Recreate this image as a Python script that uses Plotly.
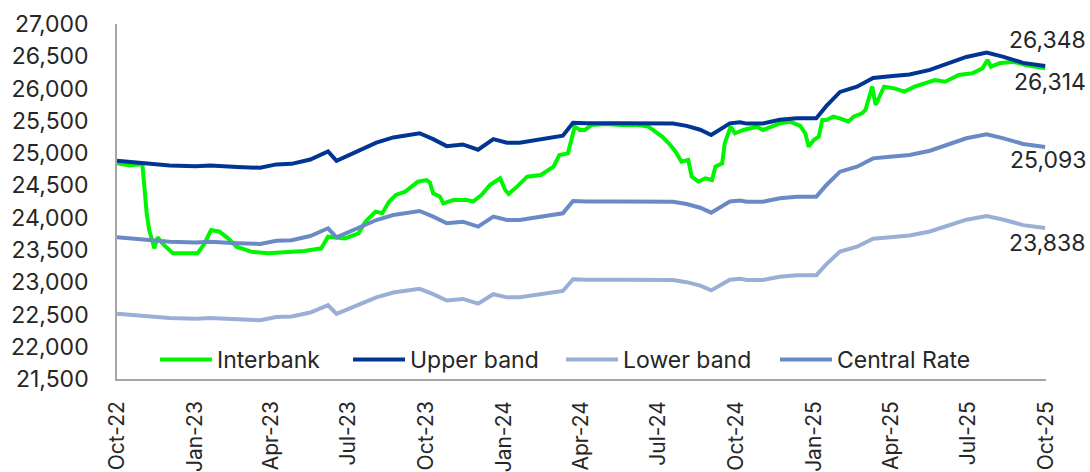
import plotly.graph_objects as go

# Central rate and the +/-5% trading band (VND per USD)
band_dates = [
    "2022-10-01", "2022-11-01", "2022-12-02", "2023-01-02", "2023-01-19", "2023-02-20",
    "2023-03-19", "2023-04-07", "2023-04-25", "2023-05-17", "2023-06-07", "2023-06-17",
    "2023-07-15", "2023-08-03", "2023-08-23", "2023-09-12", "2023-09-23", "2023-10-09",
    "2023-10-25", "2023-11-13", "2023-12-01", "2023-12-19", "2024-01-04", "2024-01-19",
    "2024-02-08", "2024-02-28", "2024-03-10", "2024-03-22", "2024-04-07", "2024-05-16",
    "2024-06-25", "2024-07-18", "2024-08-03", "2024-08-19", "2024-09-01", "2024-09-11",
    "2024-09-23", "2024-10-05", "2024-10-13", "2024-11-01", "2024-11-21", "2024-12-11",
    "2025-01-03", "2025-01-15", "2025-01-31", "2025-02-20", "2025-03-11", "2025-03-31",
    "2025-04-23", "2025-05-17", "2025-06-06", "2025-06-29", "2025-07-23", "2025-08-12",
    "2025-09-04", "2025-09-30",
]
central_rate = [
    23695, 23660, 23627, 23615, 23627, 23605, 23592, 23643, 23650, 23715, 23835, 23695,
    23850, 23963, 24041, 24077, 24103, 24015, 23912, 23937, 23860, 24015, 23963, 23963,
    23999, 24041, 24067, 24258, 24249, 24249, 24249, 24245, 24211, 24154, 24077, 24154,
    24249, 24265, 24245, 24247, 24300, 24325, 24325, 24506, 24712, 24789, 24918, 24944,
    24970, 25037, 25125, 25229, 25291, 25229, 25141, 25093,
]
upper_band = [
    24880, 24843, 24808, 24796, 24808, 24785, 24772, 24825, 24833, 24901, 25027, 24880,
    25043, 25161, 25243, 25281, 25308, 25216, 25108, 25134, 25053, 25216, 25161, 25161,
    25199, 25243, 25270, 25471, 25461, 25461, 25461, 25457, 25422, 25362, 25281, 25362,
    25461, 25478, 25457, 25459, 25515, 25541, 25541, 25731, 25948, 26028, 26164, 26191,
    26219, 26289, 26381, 26490, 26556, 26490, 26398, 26348,
]
lower_band = [
    22510, 22477, 22446, 22434, 22446, 22425, 22412, 22461, 22468, 22529, 22643, 22510,
    22658, 22765, 22839, 22873, 22898, 22814, 22716, 22740, 22667, 22814, 22765, 22765,
    22799, 22839, 22864, 23045, 23037, 23037, 23037, 23033, 23000, 22946, 22873, 22946,
    23037, 23052, 23033, 23035, 23085, 23109, 23109, 23281, 23476, 23550, 23672, 23697,
    23722, 23785, 23869, 23968, 24026, 23968, 23884, 23838,
]

# Interbank USD/VND rate
interbank_dates = [
    "2022-10-01", "2022-10-15", "2022-10-31", "2022-11-05", "2022-11-08", "2022-11-14",
    "2022-11-18", "2022-11-24", "2022-12-06", "2022-12-20", "2023-01-04", "2023-01-12",
    "2023-01-20", "2023-01-30", "2023-02-09", "2023-02-19", "2023-03-08", "2023-03-28",
    "2023-04-17", "2023-05-10", "2023-05-30", "2023-06-07", "2023-06-27", "2023-07-13",
    "2023-07-21", "2023-08-02", "2023-08-10", "2023-08-18", "2023-08-26", "2023-09-06",
    "2023-09-21", "2023-10-01", "2023-10-05", "2023-10-09", "2023-10-17", "2023-10-21",
    "2023-11-02", "2023-11-18", "2023-11-25", "2023-12-05", "2023-12-15", "2023-12-27",
    "2024-01-02", "2024-01-06", "2024-01-16", "2024-01-28", "2024-02-13", "2024-02-28",
    "2024-03-06", "2024-03-16", "2024-03-24", "2024-03-30", "2024-04-05", "2024-04-13",
    "2024-04-29", "2024-05-18", "2024-06-07", "2024-06-19", "2024-06-27", "2024-07-05",
    "2024-07-13", "2024-07-21", "2024-07-28", "2024-08-05", "2024-08-09", "2024-08-17",
    "2024-08-25", "2024-09-02", "2024-09-06", "2024-09-14", "2024-09-17", "2024-09-24",
    "2024-09-29", "2024-10-09", "2024-10-25", "2024-11-01", "2024-11-21", "2024-12-03",
    "2024-12-15", "2024-12-21", "2024-12-25", "2024-12-31", "2025-01-06", "2025-01-10",
    "2025-01-15", "2025-01-23", "2025-01-31", "2025-02-10", "2025-02-16", "2025-02-26",
    "2025-03-02", "2025-03-10", "2025-03-14", "2025-03-24", "2025-04-05", "2025-04-17",
    "2025-04-29", "2025-05-11", "2025-05-23", "2025-06-04", "2025-06-20", "2025-07-06",
    "2025-07-18", "2025-07-24", "2025-07-28", "2025-08-07", "2025-08-23", "2025-09-07",
    "2025-09-30",
]
interbank = [
    24842, 24810, 24826, 24067, 23808, 23525,
    23695, 23592, 23447, 23440, 23447, 23592,
    23808, 23782, 23679, 23550, 23473, 23447,
    23460, 23483, 23525, 23705, 23679, 23757,
    23937, 24093, 24067, 24247, 24351, 24403,
    24557, 24583, 24548, 24377, 24325, 24222,
    24273, 24273, 24250, 24351, 24506, 24609,
    24428, 24367, 24480, 24635, 24660, 24789,
    24970, 24996, 25409, 25358, 25358, 25435,
    25450, 25435, 25435, 25410, 25332, 25255,
    25151, 25022, 24867, 24893, 24635, 24557,
    24609, 24583, 24789, 24841, 25151, 25409,
    25306, 25358, 25409, 25358, 25461, 25487,
    25420, 25306, 25100, 25203, 25255, 25513,
    25513, 25564, 25538, 25487, 25564, 25616,
    25667, 26029, 25745, 26029, 26003, 25952,
    26029, 26081, 26132, 26106, 26210, 26236,
    26313, 26442, 26339, 26391, 26416, 26365,
    26314,
]

tick_dates = [
    "2022-10-01", "2023-01-01", "2023-04-01", "2023-07-01", "2023-10-01", "2024-01-01",
    "2024-04-01", "2024-07-01", "2024-10-01", "2025-01-01", "2025-04-01", "2025-07-01",
    "2025-10-01",
]
tick_labels = [
    "Oct-22", "Jan-23", "Apr-23", "Jul-23", "Oct-23", "Jan-24",
    "Apr-24", "Jul-24", "Oct-24", "Jan-25", "Apr-25", "Jul-25", "Oct-25",
]

FONT = "Inter, 'Open Sans', sans-serif"
TXT = "#262626"
GREEN = "#00F500"
NAVY = "#003594"
LIGHT = "#9AAED6"
MID = "#6A8AC6"

fig = go.Figure()
series = [
    ("Interbank", interbank_dates, interbank, GREEN, "legend"),
    ("Upper band", band_dates, upper_band, NAVY, "legend2"),
    ("Lower band", band_dates, lower_band, LIGHT, "legend3"),
    ("Central Rate", band_dates, central_rate, MID, "legend4"),
]
for name, xs, ys, color, lg in series:
    fig.add_trace(go.Scatter(
        x=xs, y=ys, name=name, mode="lines",
        line=dict(color=color, width=4),
        legend=lg, hoverinfo="skip",
    ))

# End-of-period value labels
end_labels = [
    (band_dates[-1], upper_band[-1], 26),
    (interbank_dates[-1], interbank[-1], -14),
    (band_dates[-1], central_rate[-1], -13),
    (band_dates[-1], lower_band[-1], -15),
]
for xd, val, dy in end_labels:
    fig.add_annotation(
        x=xd, y=val, xref="x", yref="y", text=f"{val:,}",
        showarrow=False, xanchor="right", yanchor="middle",
        xshift=43, yshift=dy, font=dict(family=FONT, size=23, color=TXT),
    )

PW = 929.0
legend_common = dict(
    orientation="h", yanchor="middle", y=0.055, xanchor="left",
    bgcolor="rgba(0,0,0,0)", font=dict(family=FONT, size=23, color=TXT),
    itemwidth=52, borderwidth=0, tracegroupgap=0,
)
fig.update_layout(
    width=1090, height=472,
    margin=dict(l=117, r=44, t=24, b=93),
    paper_bgcolor="white", plot_bgcolor="white",
    font=dict(family=FONT, size=23, color=TXT),
    showlegend=True,
    legend=dict(x=(160 - 117 - 5) / PW, **legend_common),
    legend2=dict(x=(353 - 117 - 5) / PW, **legend_common),
    legend3=dict(x=(566 - 117 - 5) / PW, **legend_common),
    legend4=dict(x=(780 - 117 - 5) / PW, **legend_common),
    xaxis=dict(
        type="date", range=["2022-10-01", "2025-10-01"],
        tickvals=tick_dates, ticktext=tick_labels, tickangle=-90,
        showgrid=False, zeroline=False, ticks="", automargin=False,
        showline=True, linecolor="#A6A6A6", linewidth=1.5,
        tickfont=dict(family=FONT, size=21, color=TXT),
        ticklabelstandoff=12,
    ),
    yaxis=dict(
        range=[21500, 27000], dtick=500, tick0=21500, tickformat=",",
        showgrid=False, zeroline=False, ticks="", automargin=False,
        showline=True, linecolor="#A6A6A6", linewidth=1.5,
        tickfont=dict(family=FONT, size=23, color=TXT),
        ticklabelstandoff=22,
    ),
)

fig.write_html("out.html")
